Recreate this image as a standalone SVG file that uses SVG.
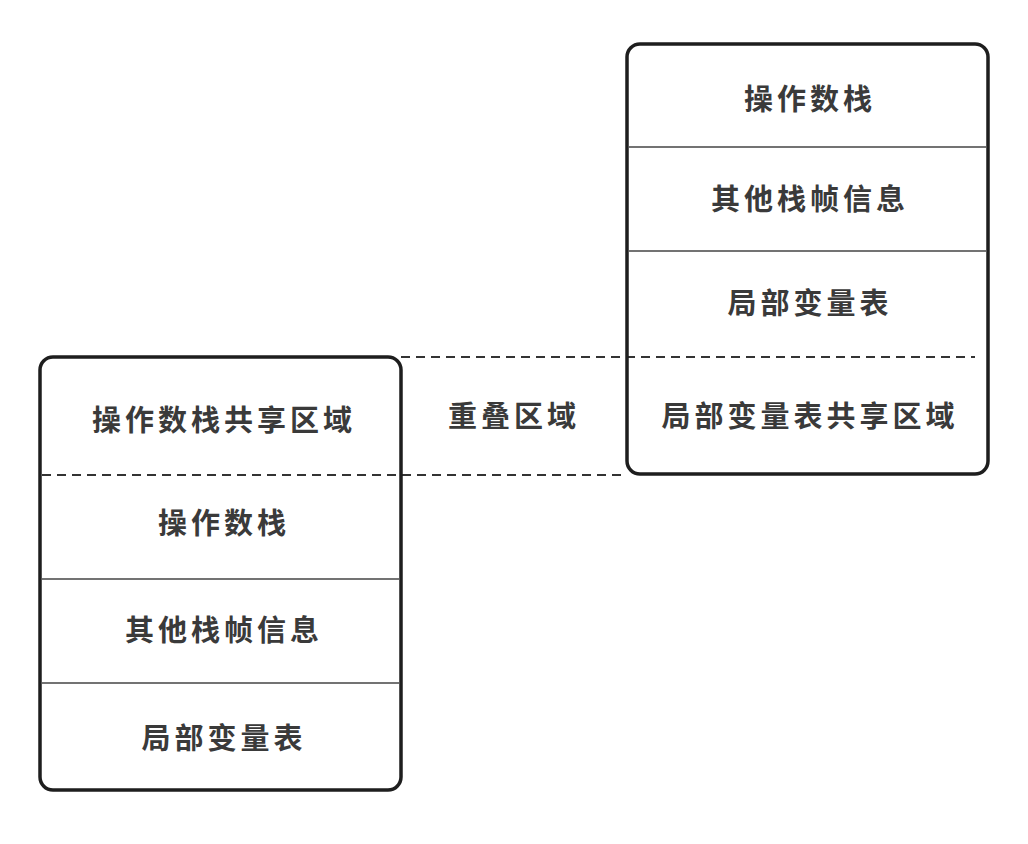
<svg xmlns="http://www.w3.org/2000/svg" width="1028" height="844" viewBox="0 0 1028 844">
<style>
.box{fill:none;stroke:#1e1e1e;stroke-width:3.5}
.div{stroke:#444;stroke-width:1.6}
.dash{stroke:#333;stroke-width:2;stroke-dasharray:9 6;fill:none}
.t{font-family:"Noto Sans CJK SC","Noto Sans",sans-serif;font-size:29px;font-weight:700;fill:#3a3a3a;text-anchor:middle;dominant-baseline:central;letter-spacing:4px}
</style>
<rect width="1028" height="844" fill="#fff"/>
<g id="connectors">
<line class="dash" x1="401" y1="357" x2="975" y2="357"/>
<line class="dash" x1="42" y1="475" x2="627" y2="475"/>
</g>
<g id="right-frame">
<rect class="box" x="627" y="44" width="361" height="430" rx="13"/>
<line class="div" x1="629" y1="147" x2="986" y2="147"/>
<line class="div" x1="629" y1="251" x2="986" y2="251"/>
<text class="t" x="810" y="97">操作数栈</text>
<text class="t" x="810" y="197">其他栈帧信息</text>
<text class="t" x="810" y="301">局部变量表</text>
<text class="t" x="810" y="414">局部变量表共享区域</text>
</g>
<g id="left-frame">
<rect class="box" x="40" y="357" width="361" height="433" rx="13"/>
<line class="div" x1="42" y1="579" x2="399" y2="579"/>
<line class="div" x1="42" y1="683" x2="399" y2="683"/>
<text class="t" x="224" y="418">操作数栈共享区域</text>
<text class="t" x="224" y="521">操作数栈</text>
<text class="t" x="224" y="628">其他栈帧信息</text>
<text class="t" x="224" y="736">局部变量表</text>
</g>
<g id="overlap">
<text class="t" x="514" y="414">重叠区域</text>
</g>
</svg>
